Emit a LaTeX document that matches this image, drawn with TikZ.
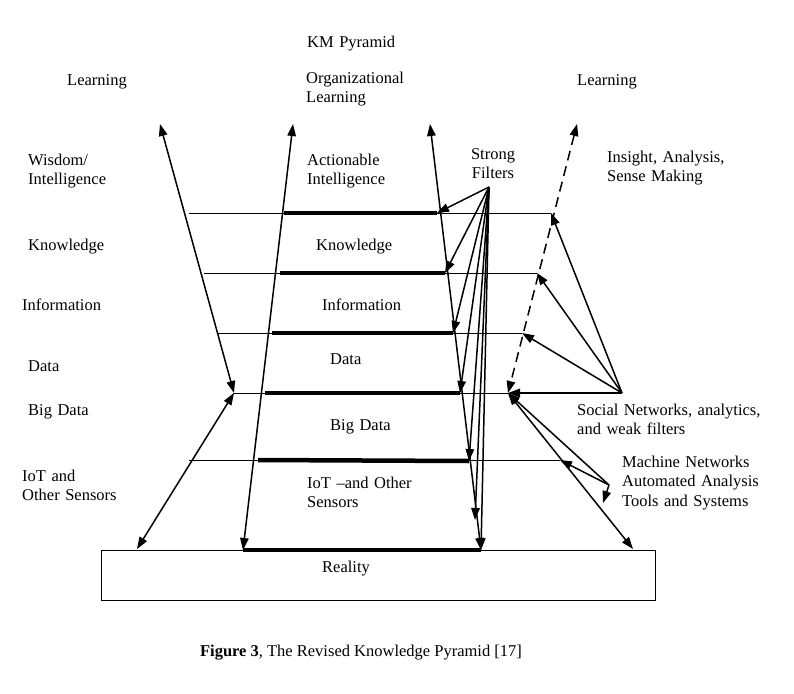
\documentclass[tikz,border=0pt]{standalone}
\usepackage{fontspec}
\setmainfont{Liberation Serif}
\usetikzlibrary{arrows.meta}
\begin{document}
\begin{tikzpicture}[x=1pt,y=-1pt,
  lbl/.style={anchor=base west,inner sep=0pt,text width=220pt,align=left,font=\fontsize{16.5}{19.5}\selectfont},
  tip/.style={line width=1.5pt,-{Triangle[length=12pt,width=8.5pt]}},
  dtip/.style={line width=1.5pt,{Triangle[length=12pt,width=8.5pt]}-{Triangle[length=12pt,width=8.5pt]}},
  hline/.style={line width=1pt},
  heavy/.style={line width=4.5pt},
  box/.style={draw,line width=1.1pt,inner sep=0pt}
]
\useasboundingbox (0,0) rectangle (794,693);
% coordinates
\coordinate (LoT) at (160,124); \coordinate (LoB) at (234,393);
\coordinate (PlT) at (293,124); \coordinate (PlB) at (243,550);
\coordinate (PrT) at (430,124); \coordinate (PrB) at (481,550);
\coordinate (DaT) at (577,124); \coordinate (DaB) at (508,393);
\coordinate (LlB) at (137,549);
\coordinate (RlB) at (633,549);
\coordinate (F) at (489,187);
\coordinate (S) at (622,393);
\coordinate (M) at (609,485);
% Reality box
\node[box,minimum width=554pt,minimum height=50pt,anchor=north west] (reality) at (101,550) {};
% thin horizontal lines
\coordinate (h1a) at (189,213); \coordinate (h1b) at (551,213);
\coordinate (h2a) at (204,273); \coordinate (h2b) at (537,273);
\coordinate (h3a) at (218,333); \coordinate (h3b) at (522,333);
\coordinate (h4a) at (233,393);
\coordinate (h5a) at (189,460); \coordinate (h5b) at (560,460);
\draw[hline] (h1a) -- (h1b);
\draw[hline] (h2a) -- (h2b);
\draw[hline] (h3a) -- (h3b);
\draw[hline] (h4a) -- (DaB);
\draw[hline] (h5a) -- (h5b);
% thick lines
\coordinate (t1a) at (284,213); \coordinate (t1b) at (437,213);
\coordinate (t2a) at (280,273); \coordinate (t2b) at (445,273);
\coordinate (t3a) at (272,333); \coordinate (t3b) at (453,333);
\coordinate (t4a) at (265,393); \coordinate (t4b) at (460,393);
\coordinate (t5a) at (258,460); \coordinate (t5b) at (469,461);
\coordinate (t6b) at (475,520);
\draw[heavy] (t1a) -- (t1b);
\draw[heavy] (t2a) -- (t2b);
\draw[heavy] (t3a) -- (t3b);
\draw[heavy] (t4a) -- (t4b);
\draw[heavy] (t5a) -- (t5b);
\draw[heavy] (PlB) -- (PrB);
% long arrows
\draw[dtip] (LoT) -- (LoB);
\draw[dtip] (PlT) -- (PlB);
\draw[dtip] (PrT) -- (PrB);
\draw[dtip,dash pattern=on 10pt off 6pt] (DaT) -- (DaB);
\draw[dtip] (LlB) -- (LoB);
\draw[dtip] (DaB) -- (RlB);
% strong filters
\foreach \p in {t1b,t2b,t3b,t4b,t5b,t6b,PrB} \draw[tip] (F) -- (\p);
% social networks
\foreach \p in {h1b,h2b,h3b,DaB} \draw[tip] (S) -- (\p);
% machine networks
\coordinate (Mx) at (603,503);
\foreach \p in {h5b,DaB,Mx} \draw[tip] (M) -- (\p);
% labels
\node[lbl] (km) at (307,48) {KM Pyramid};
\node[lbl] (learnL) at (67,85) {Learning};
\node[lbl] (orgL) at (306,83) {Organizational\\Learning};
\node[lbl] (learnR) at (577,85) {Learning};
\node[lbl] (wis) at (28,165) {Wisdom/\\Intelligence};
\node[lbl] (act) at (307,165) {Actionable\\Intelligence};
\node[lbl,text width=60pt,align=center,anchor=base] (sf) at (493,159) {Strong\\Filters};
\node[lbl] (ins) at (607,162) {Insight, Analysis,\\Sense Making};
\node[lbl] (knL) at (28,250) {Knowledge};
\node[lbl] (knM) at (316,250) {Knowledge};
\node[lbl] (inL) at (22,310) {Information};
\node[lbl] (inM) at (322,310) {Information};
\node[lbl] (daL) at (28,371) {Data};
\node[lbl] (daM) at (330,364) {Data};
\node[lbl] (bdL) at (28,415) {Big Data};
\node[lbl] (bdM) at (330,430) {Big Data};
\node[lbl] (iotL) at (22,481) {IoT and\\Other Sensors};
\node[lbl] (iotM) at (307,488) {IoT --and Other\\Sensors};
\node[lbl] (soc) at (577,415) {Social Networks, analytics,\\and weak filters};
\node[lbl] (mach) at (622,467) {Machine Networks\\Automated Analysis\\Tools and Systems};
\node[lbl] (real) at (322,572) {Reality};
\node[font=\fontsize{16.5}{19.5}\selectfont,anchor=base,inner sep=0pt] (cap) at (361,656) {\textbf{Figure 3}, The Revised Knowledge Pyramid [17]};
\end{tikzpicture}
\end{document}
